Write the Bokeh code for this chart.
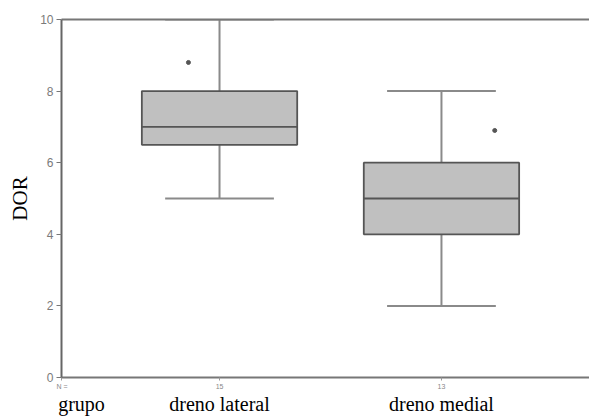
from bokeh.plotting import figure
from bokeh.models import Range1d, LinearAxis, FixedTicker, ColumnDataSource
from bokeh.embed import file_html
from bokeh.resources import INLINE

# ---- data ----
groups = ["dreno lateral", "dreno medial"]
group_pos = [1, 2]
n_counts = ["15", "13"]
lower_whisker = [5, 2]
q1 = [6.5, 4]
median = [7, 5]
q3 = [8, 6]
upper_whisker = [10, 8]
outlier_group = [1, 2]
outlier_offset = [-0.14, 0.24]
outlier_value = [8.8, 6.9]
y_ticks = [0, 2, 4, 6, 8, 10]
x_title = "grupo"
x_title_pos = 0.378
n_title = "N ="
n_title_pos = 0.29
y_title = "DOR"

box_w = 0.70
cap_w = 0.49

p = figure(width=589, height=417, output_backend="svg", toolbar_location=None,
           x_range=Range1d(0.288, 2.667), y_range=Range1d(0, 10),
           min_border_left=61, min_border_right=0, min_border_top=19,
           min_border_bottom=38)
p.outline_line_color = None
p.xgrid.visible = False
p.ygrid.visible = False
p.background_fill_color = "white"
p.border_fill_color = "white"

src = ColumnDataSource(dict(
    x=group_pos, lo=lower_whisker, q1=q1, med=median, q3=q3, hi=upper_whisker,
    bl=[g - box_w / 2 for g in group_pos], br=[g + box_w / 2 for g in group_pos],
    cl=[g - cap_w / 2 for g in group_pos], cr=[g + cap_w / 2 for g in group_pos]))
whisk_color = "#8a8a8a"
box_line = "#555555"
p.segment(x0="x", y0="q3", x1="x", y1="hi", source=src, line_color=whisk_color, line_width=2)
p.segment(x0="x", y0="lo", x1="x", y1="q1", source=src, line_color=whisk_color, line_width=2)
p.segment(x0="cl", y0="hi", x1="cr", y1="hi", source=src, line_color=whisk_color, line_width=2)
p.segment(x0="cl", y0="lo", x1="cr", y1="lo", source=src, line_color=whisk_color, line_width=2)
p.quad(left="bl", right="br", bottom="q1", top="q3", source=src,
       fill_color="#c0c0c0", line_color=box_line, line_width=1.8)
p.segment(x0="bl", y0="med", x1="br", y1="med", source=src, line_color=box_line, line_width=1.8)

ox = [g + o for g, o in zip(outlier_group, outlier_offset)]
p.scatter(x=ox, y=outlier_value, size=4, color="#555555", marker="circle")

# y axis
ya = p.yaxis[0]
ya.ticker = FixedTicker(ticks=y_ticks)
ya.axis_line_color = "#666666"
ya.axis_line_width = 2
ya.major_tick_line_color = "#777777"
ya.major_tick_out = 5
ya.major_tick_in = 0
ya.minor_tick_line_color = None
ya.major_label_text_font = "Liberation Sans"
ya.major_label_text_font_size = "12px"
ya.major_label_text_color = "#7a7a7a"
ya.major_label_standoff = 3
ya.axis_label = y_title
ya.axis_label_text_font = "Liberation Serif"
ya.axis_label_text_font_size = "21px"
ya.axis_label_text_font_style = "normal"
ya.axis_label_text_color = "black"
ya.axis_label_standoff = 5

# x axis (N counts)
xa = p.xaxis[0]
xa.ticker = FixedTicker(ticks=[n_title_pos] + group_pos)
xa.major_label_overrides = {**{n_title_pos: n_title},
                            **{g: n for g, n in zip(group_pos, n_counts)}}
xa.axis_line_color = "#777777"
xa.axis_line_width = 2
xa.major_tick_line_color = "#999999"
xa.major_tick_out = 3
xa.major_tick_in = 0
xa.minor_tick_line_color = None
xa.major_label_text_font = "Liberation Sans"
xa.major_label_text_font_size = "7px"
xa.major_label_text_color = "#888888"
xa.major_label_standoff = 2

# group labels axis
ga = LinearAxis(ticker=FixedTicker(ticks=[x_title_pos] + group_pos),
                major_label_overrides={**{x_title_pos: x_title},
                                       **{g: n for g, n in zip(group_pos, groups)}},
                axis_line_color=None, major_tick_line_color=None,
                minor_tick_line_color=None, major_tick_out=0,
                major_label_standoff=0, major_label_text_font="Liberation Serif",
                major_label_text_font_size="20px", major_label_text_color="black")
p.add_layout(ga, "below")

# top line
top = LinearAxis(ticker=FixedTicker(ticks=[]), axis_line_color="#777777",
                 axis_line_width=2, major_label_text_font_size="0px",
                 major_tick_line_color=None, minor_tick_line_color=None)
p.add_layout(top, "above")

open("out.html", "w").write(file_html(p, INLINE))
